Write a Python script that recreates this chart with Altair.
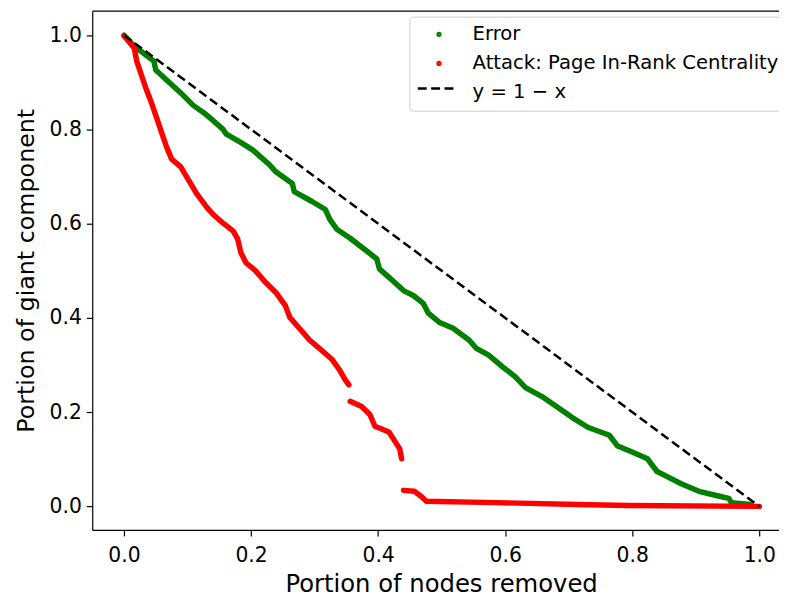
import altair as alt
import pandas as pd

# ---- data ----
green_x = [0.0, 0.016, 0.036, 0.047, 0.050, 0.067, 0.089, 0.109, 0.125, 0.140, 0.156, 0.161,
           0.183, 0.203, 0.229, 0.239, 0.265, 0.268, 0.296, 0.317, 0.324, 0.335, 0.356, 0.382,
           0.398, 0.402, 0.418, 0.426, 0.440, 0.456, 0.471, 0.479, 0.496, 0.518, 0.543, 0.554,
           0.574, 0.596, 0.616, 0.632, 0.658, 0.683, 0.705, 0.730, 0.764, 0.777, 0.799, 0.824,
           0.839, 0.855, 0.877, 0.905, 0.939, 0.952, 0.956, 0.986]
green_y = [1.0, 0.977, 0.956, 0.945, 0.926, 0.905, 0.878, 0.851, 0.836, 0.819, 0.800, 0.790,
           0.773, 0.756, 0.725, 0.710, 0.685, 0.668, 0.647, 0.630, 0.609, 0.588, 0.569, 0.542,
           0.525, 0.504, 0.485, 0.475, 0.458, 0.447, 0.431, 0.410, 0.391, 0.378, 0.353, 0.336,
           0.321, 0.296, 0.275, 0.252, 0.233, 0.210, 0.189, 0.168, 0.151, 0.128, 0.116, 0.101,
           0.074, 0.063, 0.048, 0.032, 0.021, 0.017, 0.008, 0.004]

red_x = [0.0, 0.003, 0.016, 0.020, 0.034, 0.042, 0.051, 0.058, 0.067, 0.075, 0.089, 0.105,
         0.114, 0.129, 0.140, 0.156, 0.172, 0.179, 0.184, 0.192, 0.207, 0.223, 0.239, 0.254,
         0.261, 0.276, 0.292, 0.307, 0.328, 0.339, 0.348, 0.354,
         0.356, 0.374, 0.387, 0.395, 0.417, 0.426, 0.434, 0.437,
         0.440, 0.457, 0.468, 0.476, 0.585, 0.714, 0.793, 1.0]
red_y = [0.998, 0.994, 0.973, 0.945, 0.889, 0.861, 0.826, 0.798, 0.763, 0.737, 0.721, 0.685,
         0.664, 0.637, 0.620, 0.601, 0.584, 0.567, 0.538, 0.517, 0.500, 0.475, 0.454, 0.426,
         0.401, 0.378, 0.353, 0.336, 0.311, 0.290, 0.269, 0.258,
         0.223, 0.212, 0.195, 0.170, 0.158, 0.139, 0.122, 0.101,
         0.034, 0.032, 0.021, 0.011, 0.008, 0.004, 0.002, 0.0]
red_seg = [0] * 32 + [1] * 8 + [2] * 8

ref_x = [0.0, 1.0]
ref_y = [1.0, 0.0]

series_names = ["Error", "Attack: Page In-Rank Centrality", "y = 1 \u2212 x"]
series_colors = ["#008000", "#ff0000", "transparent"]
x_ticks = [0.0, 0.2, 0.4, 0.6, 0.8, 1.0]
y_ticks = [0.0, 0.2, 0.4, 0.6, 0.8, 1.0]

green_df = pd.DataFrame({"x": green_x, "y": green_y, "series": series_names[0], "seg": 0})
red_df = pd.DataFrame({"x": red_x, "y": red_y, "series": series_names[1], "seg": red_seg})
ref_df = pd.DataFrame({"x": ref_x, "y": ref_y, "kind": "ref"})

xscale = alt.Scale(domain=[-0.05, 1.031], nice=False, zero=False)
yscale = alt.Scale(domain=[-0.05, 1.052], nice=False, zero=False)
cscale = alt.Scale(domain=series_names, range=series_colors)

legend_a = alt.Legend(
    title=None, orient="none", legendX=320, legendY=6, zindex=0,
    labelFont="DejaVu Sans", labelFontSize=19.8, labelColor="black", labelLimit=1000,
    symbolType="circle", symbolSize=5, symbolStrokeWidth=3, symbolOpacity=1,
    symbolOffset=12, labelOffset=24, rowPadding=8.3, padding=8,
    strokeColor="#cccccc", fillColor="rgba(255,255,255,0.8)", cornerRadius=4,
)
legend_b = alt.Legend(
    title=None, orient="none", legendX=327, legendY=58, zindex=1,
    labelExpr="''", symbolType="stroke", symbolSize=1444, symbolStrokeWidth=2.5,
    symbolStrokeColor="black", symbolOpacity=1, padding=0,
)

xaxis = alt.Axis(values=x_ticks, format=".1f", title="Portion of nodes removed",
                 titlePadding=7, labelPadding=10, titleX=352)
yaxis = alt.Axis(values=y_ticks, format=".1f", title="Portion of giant component",
                 titlePadding=11, labelPadding=5, titleFontSize=24)

green_layer = alt.Chart(green_df).mark_line(strokeWidth=5.5, strokeCap="round", strokeJoin="round").encode(
    x=alt.X("x:Q", scale=xscale, axis=xaxis),
    y=alt.Y("y:Q", scale=yscale, axis=yaxis),
    color=alt.Color("series:N", scale=cscale, legend=legend_a),
    detail="seg:N",
)

red_layer = alt.Chart(red_df).mark_line(strokeWidth=5.5, strokeCap="round", strokeJoin="round").encode(
    x=alt.X("x:Q", scale=xscale, axis=None),
    y=alt.Y("y:Q", scale=yscale, axis=yaxis),
    color=alt.Color("series:N", scale=cscale, legend=legend_a),
    detail="seg:N",
)

ref_layer = alt.Chart(ref_df).mark_line(strokeWidth=2.5, color="black").encode(
    x=alt.X("x:Q", scale=xscale,
            axis=alt.Axis(orient="top", labels=False, ticks=False, title=None, domain=True)),
    y=alt.Y("y:Q", scale=yscale, axis=yaxis),
    strokeDash=alt.StrokeDash("kind:N", scale=alt.Scale(domain=["ref"], range=[[9, 4.5]]),
                              legend=legend_b),
)

chart = alt.layer(green_layer, red_layer, ref_layer).resolve_axis(x="independent").properties(
    width=693, height=524,
    autosize=alt.AutoSizeParams(type="none"),
    padding={"left": 85, "top": 0, "right": 0, "bottom": 66},
).configure_view(stroke=None).configure_axis(
    labelFont="DejaVu Sans", titleFont="DejaVu Sans",
    labelFontSize=20.5, titleFontSize=24.5, titleFontWeight="normal",
    labelColor="black", titleColor="black", tickColor="black", domainColor="black",
    domainWidth=1.2, tickWidth=1.2, tickSize=6, grid=False,
)

chart.save("out.html", embed_options={"renderer": "svg", "actions": False})
